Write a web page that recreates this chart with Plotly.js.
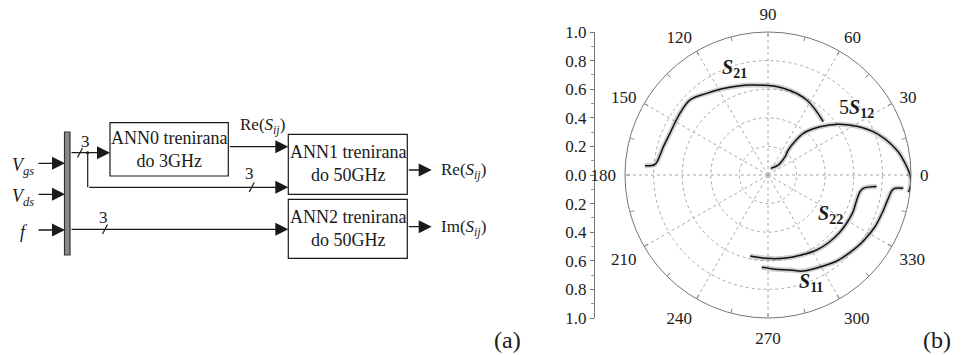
<!DOCTYPE html>
<html>
<head>
<meta charset="utf-8">
<script src="https://cdn.plot.ly/plotly-3.0.1.min.js"></script>
<style>
  html, body { margin: 0; padding: 0; background: #fff; }
  #fig { width: 967px; height: 355px; }
</style>
</head>
<body>
<div id="fig"></div>
<script>
// Measured S-parameter traces (angle in degrees, magnitude)
var s21Theta = [175.7, 174.6, 169.5, 164.9, 157, 145, 136, 126.9, 117.3, 101.3, 80, 62.7, 44];
var s21R     = [0.863, 0.794, 0.768, 0.758, 0.745, 0.752, 0.757, 0.714, 0.68, 0.642, 0.616, 0.59, 0.537];

var s12Theta = [68, 44, 47, 51, 51.4, 49.7, 42.9, 35.2, 22.4, 11, 4.9, 0, -4, -7];
var s12R     = [0.05, 0.1, 0.175, 0.225, 0.284, 0.382, 0.496, 0.616, 0.796, 0.917, 0.962, 0.993, 1.0, 0.99];

var s22Theta = [-6.1, -8, -10.3, -14.7, -23.8, -31, -39, -48, -57, -68, -79.6, -91, -102.5];
var s22R     = [0.764, 0.673, 0.654, 0.645, 0.648, 0.645, 0.642, 0.635, 0.625, 0.605, 0.592, 0.583, 0.58];

var s11Theta = [-5.6, -6.4, -11, -18, -25.8, -35, -41.3, -51.6, -58.4, -70, -77, -86, -93.9];
var s11R     = [0.951, 0.882, 0.857, 0.842, 0.831, 0.81, 0.794, 0.77, 0.745, 0.715, 0.682, 0.66, 0.647];

// Left-hand magnitude scale
var magTickVals = [-1, -0.8, -0.6, -0.4, -0.2, 0, 0.2, 0.4, 0.6, 0.8, 1];
var magTickText = ['1.0', '0.8', '0.6', '0.4', '0.2', '0.0', '0.2', '0.4', '0.6', '0.8', '1.0'];

// Angle labels around the chart
var angleTickVals = [0, 30, 60, 90, 120, 150, 180, 210, 240, 270, 300, 330];
var angleTickText = ['0', '30', '60', '90', '120', '150', '180', '210', '240', '270', '300', '330'];

var SERIF = 'Liberation Serif';
var INK = '#1a1a1a';

// Polar plot placement (pixels): centre and radius of the unit circle
var W = 967, H = 355;
var cx = 768, cy = 175, R = 143;
var polarDomain = {
  x: [(cx - R) / W, (cx + R) / W],
  y: [(H - cy - R) / H, (H - cy + R) / H]
};

function curve(theta, r) {
  return [
    { type: 'scatterpolar', theta: theta, r: r, mode: 'lines',
      line: { color: 'rgba(110,110,110,0.32)', width: 5, shape: 'spline' },
      hoverinfo: 'skip', subplot: 'polar' },
    { type: 'scatterpolar', theta: theta, r: r, mode: 'lines',
      line: { color: '#111', width: 1.5, shape: 'spline' },
      hoverinfo: 'skip', subplot: 'polar' }
  ];
}

var traces = [].concat(
  curve(s21Theta, s21R),
  curve(s12Theta, s12R),
  curve(s22Theta, s22R),
  curve(s11Theta, s11R)
);
// anchors for the drawing canvas, the magnitude scale and the fine tick ring
traces.push({ type: 'scatter', x: [0], y: [0], xaxis: 'x', yaxis: 'y', mode: 'markers',
  marker: { opacity: 0 }, hoverinfo: 'skip' });
traces.push({ type: 'scatter', x: [0], y: [0], xaxis: 'x2', yaxis: 'y2', mode: 'markers',
  marker: { opacity: 0 }, hoverinfo: 'skip' });
traces.push({ type: 'scatterpolar', theta: [0], r: [0], mode: 'markers',
  marker: { opacity: 0 }, hoverinfo: 'skip', subplot: 'polar2' });

// ---------- block diagram (a) ----------
var shapes = [];
function rect(x0, y0, x1, y1, fill, lc) {
  shapes.push({ type: 'rect', xref: 'x', yref: 'y', x0: x0, y0: y0, x1: x1, y1: y1,
    fillcolor: fill || 'rgba(0,0,0,0)', line: { color: lc || INK, width: 1.2 } });
}
function seg(x0, y0, x1, y1, w) {
  shapes.push({ type: 'line', xref: 'x', yref: 'y', x0: x0, y0: y0, x1: x1, y1: y1,
    line: { color: INK, width: w || 1.2 } });
}
rect(64.5, 132, 70, 255, '#8a8a8a', '#333');
rect(110, 122.7, 228.3, 176);
rect(288.3, 134.3, 407.3, 194.3);
rect(288.3, 199.3, 407.3, 258.3);
seg(87.7, 152.7, 87.7, 187.3);
// bus-width slashes
seg(77.5, 157.5, 82.5, 148);
seg(249.2, 192, 254.2, 182.5);
seg(102.5, 234, 107.5, 224.5);
shapes.push({ type: 'circle', xref: 'x', yref: 'y', x0: 86.2, y0: 151.2, x1: 89.2, y1: 154.2,
  fillcolor: INK, line: { color: INK, width: 0 } });

var ann = [];
function arrow(x0, y0, x1, y1) {
  ann.push({ xref: 'x', yref: 'y', axref: 'x', ayref: 'y', x: x1, y: y1, ax: x0, ay: y0,
    text: '', showarrow: true, arrowhead: 2, arrowsize: 2, arrowwidth: 1.3,
    arrowcolor: INK, standoff: 0, startstandoff: 0 });
}
arrow(37, 163.3, 65, 163.3);
arrow(37, 194.3, 65, 194.3);
arrow(37, 230, 65, 230);
arrow(70, 152.7, 110, 152.7);
arrow(87.7, 187.3, 288.3, 187.3);
arrow(228.3, 146.7, 288.3, 146.7);
arrow(70, 229.3, 288.3, 229.3);
arrow(407.3, 170, 431.7, 170);
arrow(407.3, 226.7, 431.7, 226.7);

function label(x, y, text, size, xanchor) {
  ann.push({ xref: 'x', yref: 'y', x: x, y: y, text: text, showarrow: false,
    xanchor: xanchor || 'center', yanchor: 'middle',
    font: { family: SERIF, size: size || 17, color: INK } });
}
label(169, 149.5, 'ANN0 trenirana<br>do 3GHz', 18);
label(348, 163.5, 'ANN1 trenirana<br>do 50GHz', 18);
label(348, 228.5, 'ANN2 trenirana<br>do 50GHz', 18);
label(262, 126, 'Re(<i>S<sub>ij</sub></i>)', 17);
label(439, 171, 'Re(<i>S<sub>ij</sub></i>)', 17, 'left');
label(439, 228, 'Im(<i>S<sub>ij</sub></i>)', 17, 'left');
label(85, 141, '3', 17);
label(249, 173, '3', 17);
label(103, 217, '3', 17);
label(10, 166, '<i>V<sub>gs</sub></i>', 18, 'left');
label(10, 197, '<i>V<sub>ds</sub></i>', 18, 'left');
label(18, 232, '<i>f</i>', 18, 'left');
label(507, 340, '(a)', 24);
label(937, 340, '(b)', 24);

// ---------- polar curve labels (b) ----------
label(734, 68, '<b><i>S</i><sub>21</sub></b>', 20);
label(856, 108, '5<b><i>S</i><sub>12</sub></b>', 20);
label(830, 214, '<b><i>S</i><sub>22</sub></b>', 20);
label(811, 282, '<b><i>S</i><sub>11</sub></b>', 20);

var layout = {
  width: W, height: H,
  margin: { l: 0, r: 0, t: 0, b: 0 },
  paper_bgcolor: '#fff', plot_bgcolor: 'rgba(0,0,0,0)',
  showlegend: false,
  font: { family: SERIF, color: INK },
  xaxis: { domain: [0, 1], range: [0, W], visible: false, fixedrange: true },
  yaxis: { domain: [0, 1], range: [H, 0], visible: false, fixedrange: true },
  xaxis2: { domain: [595 / W, 600 / W], range: [0, 1], visible: false, anchor: 'y2' },
  yaxis2: {
    domain: polarDomain.y, range: [-1, 1], anchor: 'x2', side: 'left',
    showline: true, linecolor: '#777', linewidth: 1,
    showgrid: false, zeroline: false,
    tickmode: 'array', tickvals: magTickVals, ticktext: magTickText,
    ticks: 'outside', ticklen: 4, tickcolor: '#777', tickwidth: 1,
    minor: { dtick: 0.1, ticks: 'outside', ticklen: 3, tickcolor: '#999', showgrid: false },
    tickfont: { family: SERIF, size: 17, color: INK }
  },
  polar: {
    domain: polarDomain,
    bgcolor: 'rgba(0,0,0,0)',
    radialaxis: {
      range: [0, 1], dtick: 0.2, showticklabels: false, ticks: '',
      showline: false, gridcolor: '#a8a8a8', griddash: 'dot', gridwidth: 1
    },
    angularaxis: {
      rotation: 0, direction: 'counterclockwise',
      tickmode: 'array', tickvals: angleTickVals, ticktext: angleTickText,
      showline: true, linecolor: '#777', linewidth: 1,
      gridcolor: '#a8a8a8', griddash: 'dot', gridwidth: 1,
      // invisible outside ticks push the angle labels a little further out
      ticks: 'outside', ticklen: 5, tickcolor: 'rgba(0,0,0,0)',
      tickfont: { family: SERIF, size: 17, color: INK }
    }
  },
  polar2: {
    domain: polarDomain,
    bgcolor: 'rgba(0,0,0,0)',
    radialaxis: { range: [0, 1], visible: false, showgrid: false },
    angularaxis: {
      rotation: 0, direction: 'counterclockwise', dtick: 15,
      showline: false, showgrid: false, showticklabels: false,
      ticks: 'inside', ticklen: 4, tickcolor: '#888'
    }
  },
  shapes: shapes,
  annotations: ann
};

Plotly.newPlot('fig', traces, layout, { staticPlot: true, displayModeBar: false });
</script>
</body>
</html>
